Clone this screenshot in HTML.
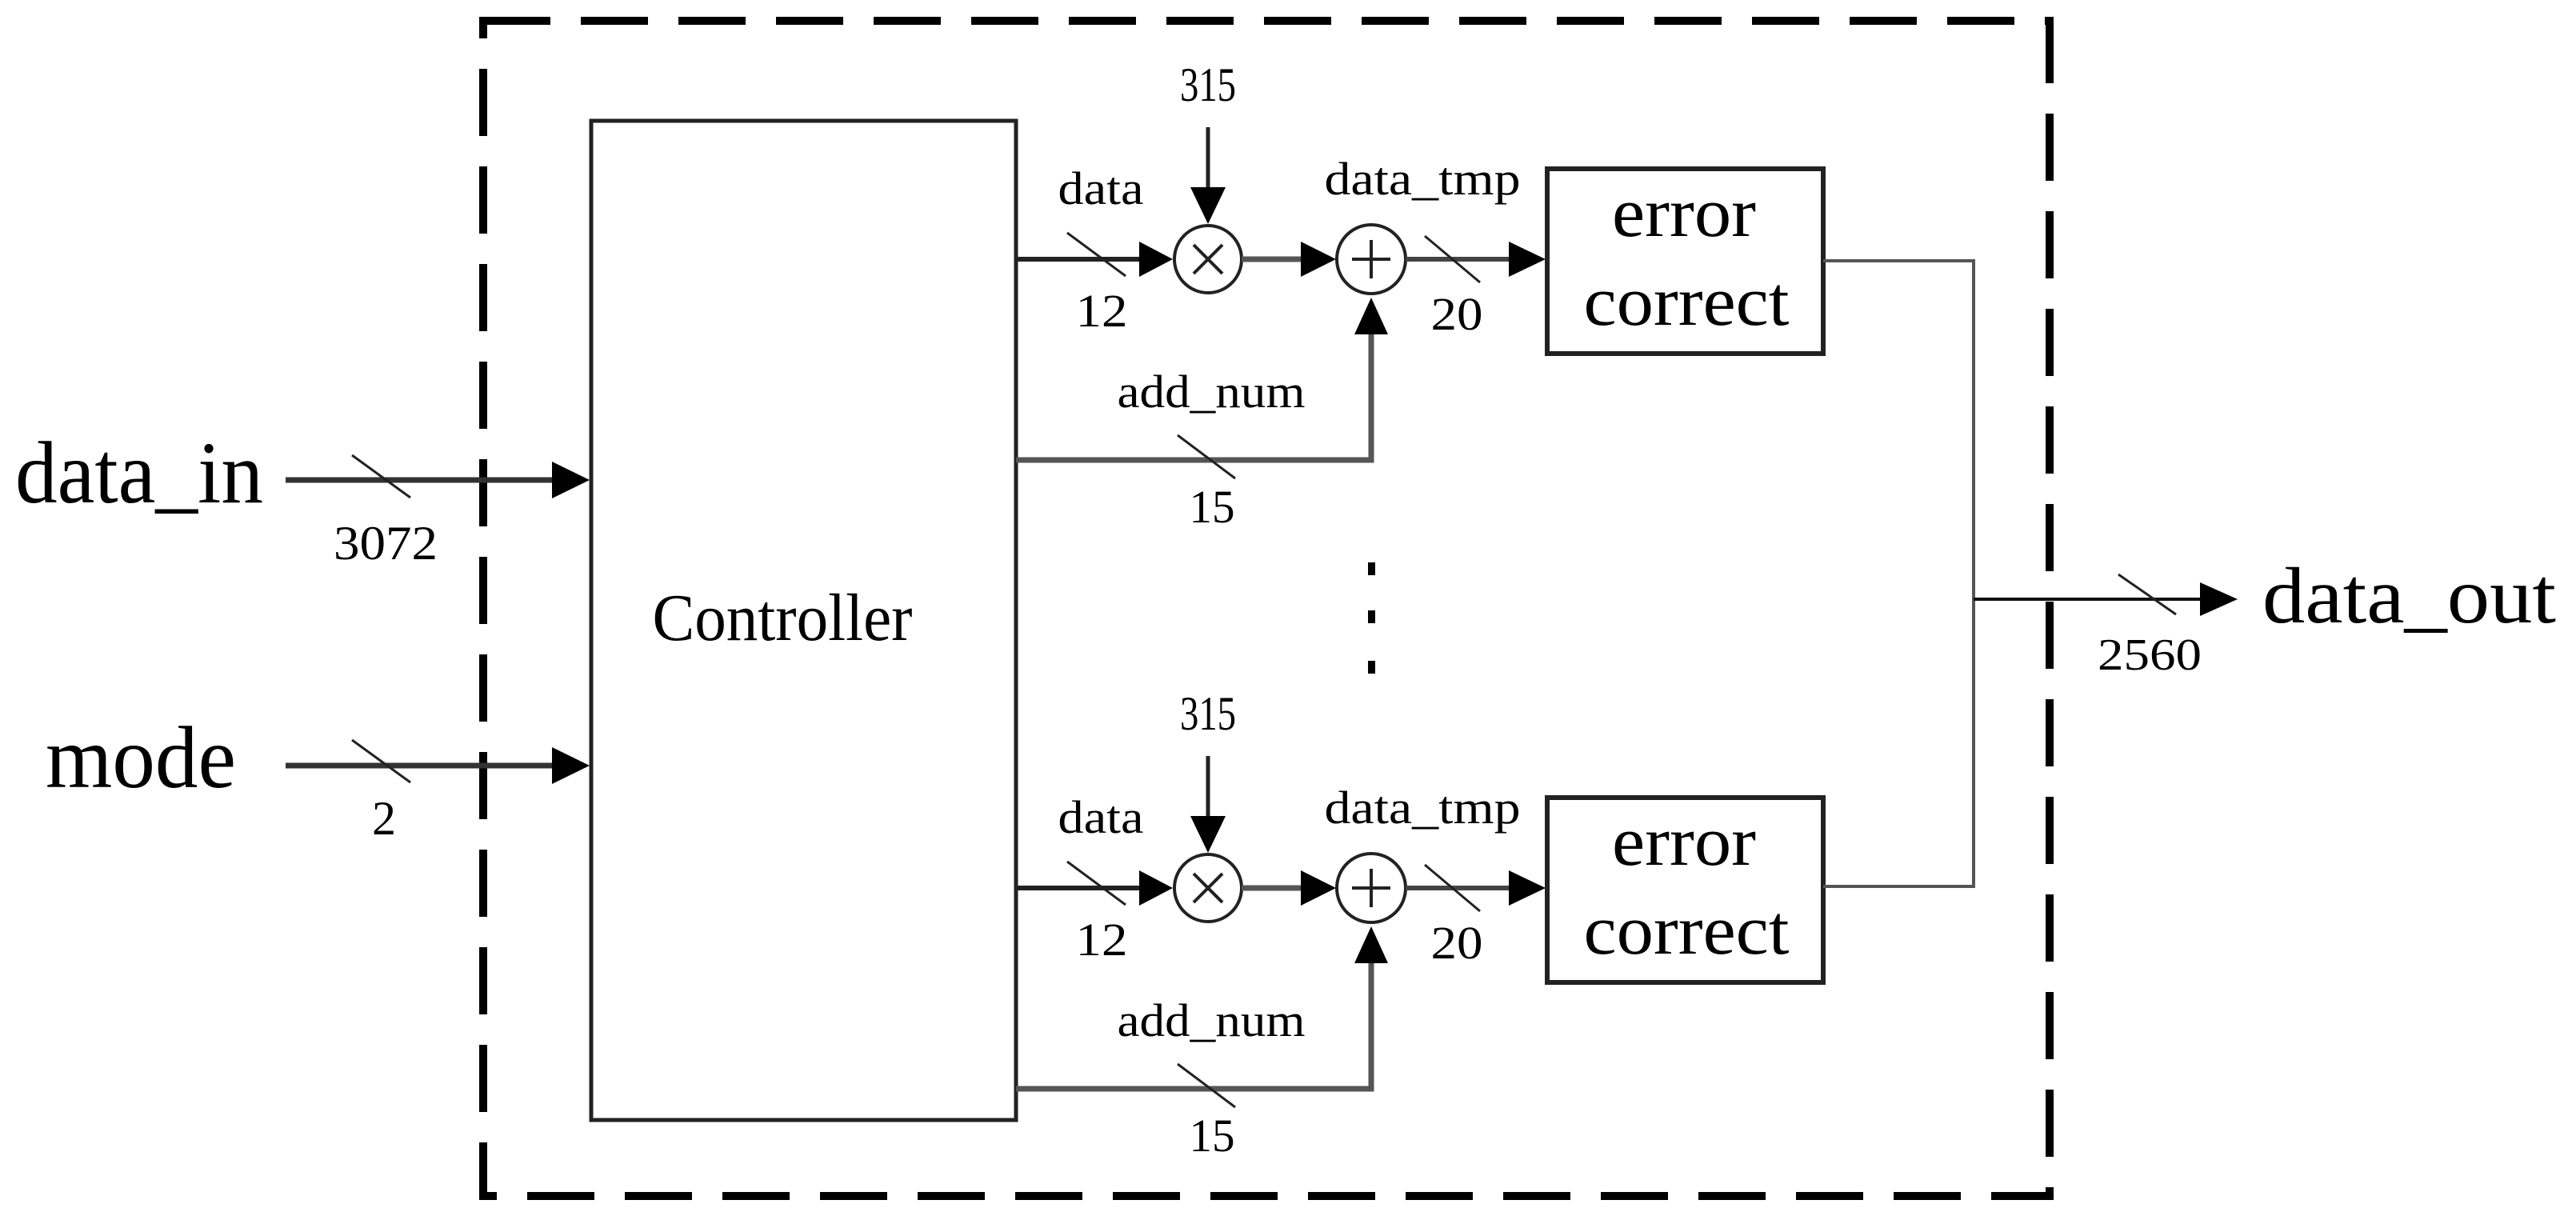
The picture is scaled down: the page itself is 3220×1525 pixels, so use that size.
<!DOCTYPE html>
<html><head><meta charset="utf-8"><style>
html,body{margin:0;padding:0;background:#fff;}
svg{display:block;}
text{font-family:"Liberation Serif",serif;fill:#000;}
</style></head><body>
<svg width="3220" height="1525" viewBox="0 0 3220 1525" xmlns="http://www.w3.org/2000/svg">
<defs>
<g id="grp">
  <!-- data line -->
  <line x1="1270" y1="324" x2="1428" y2="324" stroke="#222" stroke-width="6"/>
  <polygon points="1424,302 1466,324 1424,346" fill="#000"/>
  <circle cx="1510" cy="324" r="42" fill="none" stroke="#222" stroke-width="4"/>
  <line x1="1492" y1="306" x2="1528" y2="342" stroke="#222" stroke-width="4"/>
  <line x1="1528" y1="306" x2="1492" y2="342" stroke="#222" stroke-width="4"/>
  <line x1="1334" y1="291" x2="1407" y2="345" stroke="#222" stroke-width="3"/>
  <!-- 315 arrow -->
  <line x1="1510" y1="159" x2="1510" y2="240" stroke="#222" stroke-width="5"/>
  <polygon points="1488,234 1532,234 1510,280" fill="#000"/>
  <!-- x to + -->
  <line x1="1552" y1="324" x2="1630" y2="324" stroke="#555" stroke-width="7"/>
  <polygon points="1626,302 1670,324 1626,346" fill="#000"/>
  <circle cx="1714" cy="324" r="43" fill="none" stroke="#222" stroke-width="4"/>
  <line x1="1714" y1="300" x2="1714" y2="348" stroke="#222" stroke-width="4"/>
  <line x1="1690" y1="324" x2="1738" y2="324" stroke="#222" stroke-width="4"/>
  <!-- + to box -->
  <line x1="1757" y1="324" x2="1890" y2="324" stroke="#444" stroke-width="6"/>
  <polygon points="1886,302 1932,324 1886,346" fill="#000"/>
  <line x1="1781" y1="295" x2="1850" y2="353" stroke="#222" stroke-width="3"/>
  <!-- add_num -->
  <polyline points="1270,575 1714,575 1714,410" fill="none" stroke="#555" stroke-width="7"/>
  <polygon points="1693,418 1735,418 1714,372" fill="#000"/>
  <line x1="1472" y1="544" x2="1544" y2="598" stroke="#222" stroke-width="3"/>
  <!-- error correct box -->
  <rect x="1934" y="211" width="345" height="231" fill="none" stroke="#222" stroke-width="6"/>
  <text x="2105" y="295" font-size="88" text-anchor="middle" textLength="180" lengthAdjust="spacingAndGlyphs">error</text>
  <text x="2108" y="406" font-size="88" text-anchor="middle" textLength="257" lengthAdjust="spacingAndGlyphs">correct</text>
  <!-- labels -->
  <text x="1510" y="126" font-size="60" text-anchor="middle" textLength="70" lengthAdjust="spacingAndGlyphs">315</text>
  <text x="1376" y="255" font-size="58" text-anchor="middle" textLength="107" lengthAdjust="spacingAndGlyphs">data</text>
  <text x="1778" y="243" font-size="58" text-anchor="middle" textLength="245" lengthAdjust="spacingAndGlyphs">data_tmp</text>
  <text x="1377" y="408" font-size="58" text-anchor="middle" textLength="65" lengthAdjust="spacingAndGlyphs">12</text>
  <text x="1821" y="412" font-size="58" text-anchor="middle" textLength="65" lengthAdjust="spacingAndGlyphs">20</text>
  <text x="1514" y="509" font-size="58" text-anchor="middle" textLength="235" lengthAdjust="spacingAndGlyphs">add_num</text>
  <text x="1515" y="653" font-size="58" text-anchor="middle" textLength="57" lengthAdjust="spacingAndGlyphs">15</text>
</g>
</defs>

<!-- dashed boundary -->
<rect x="604" y="26" width="1958" height="1469" fill="none" stroke="#000" stroke-width="10" stroke-dasharray="84,38"/>

<!-- controller -->
<rect x="739" y="151" width="531" height="1249" fill="none" stroke="#222" stroke-width="5"/>
<text x="978" y="800" font-size="84" text-anchor="middle" textLength="325" lengthAdjust="spacingAndGlyphs">Controller</text>

<!-- inputs -->
<text x="19" y="628" font-size="110" textLength="310" lengthAdjust="spacingAndGlyphs">data_in</text>
<line x1="357" y1="600" x2="695" y2="600" stroke="#333" stroke-width="7"/>
<polygon points="690,577 737,600 690,623" fill="#000"/>
<line x1="440" y1="569" x2="513" y2="622" stroke="#222" stroke-width="3"/>
<text x="482" y="699" font-size="60" text-anchor="middle" textLength="130" lengthAdjust="spacingAndGlyphs">3072</text>

<text x="57" y="984" font-size="110" textLength="238" lengthAdjust="spacingAndGlyphs">mode</text>
<line x1="357" y1="957" x2="695" y2="957" stroke="#333" stroke-width="7"/>
<polygon points="690,934 737,957 690,980" fill="#000"/>
<line x1="440" y1="925" x2="513" y2="978" stroke="#222" stroke-width="3"/>
<text x="480" y="1043" font-size="60" text-anchor="middle">2</text>

<use href="#grp"/>
<use href="#grp" transform="translate(0,786)"/>

<!-- dots -->
<rect x="1710" y="703" width="9" height="16" fill="#000"/>
<rect x="1710" y="763" width="9" height="16" fill="#000"/>
<rect x="1710" y="826" width="9" height="16" fill="#000"/>

<!-- output merge -->
<polyline points="2279,326 2467,326 2467,1108 2279,1108" fill="none" stroke="#555" stroke-width="4"/>
<line x1="2467" y1="749" x2="2755" y2="749" stroke="#111" stroke-width="4"/>
<polygon points="2750,728 2797,749 2750,770" fill="#000"/>
<line x1="2648" y1="718" x2="2720" y2="768" stroke="#222" stroke-width="3"/>
<text x="2687" y="837" font-size="56" text-anchor="middle" textLength="130" lengthAdjust="spacingAndGlyphs">2560</text>
<text x="2828" y="778" font-size="100" textLength="367" lengthAdjust="spacingAndGlyphs">data_out</text>
</svg>
</body></html>
